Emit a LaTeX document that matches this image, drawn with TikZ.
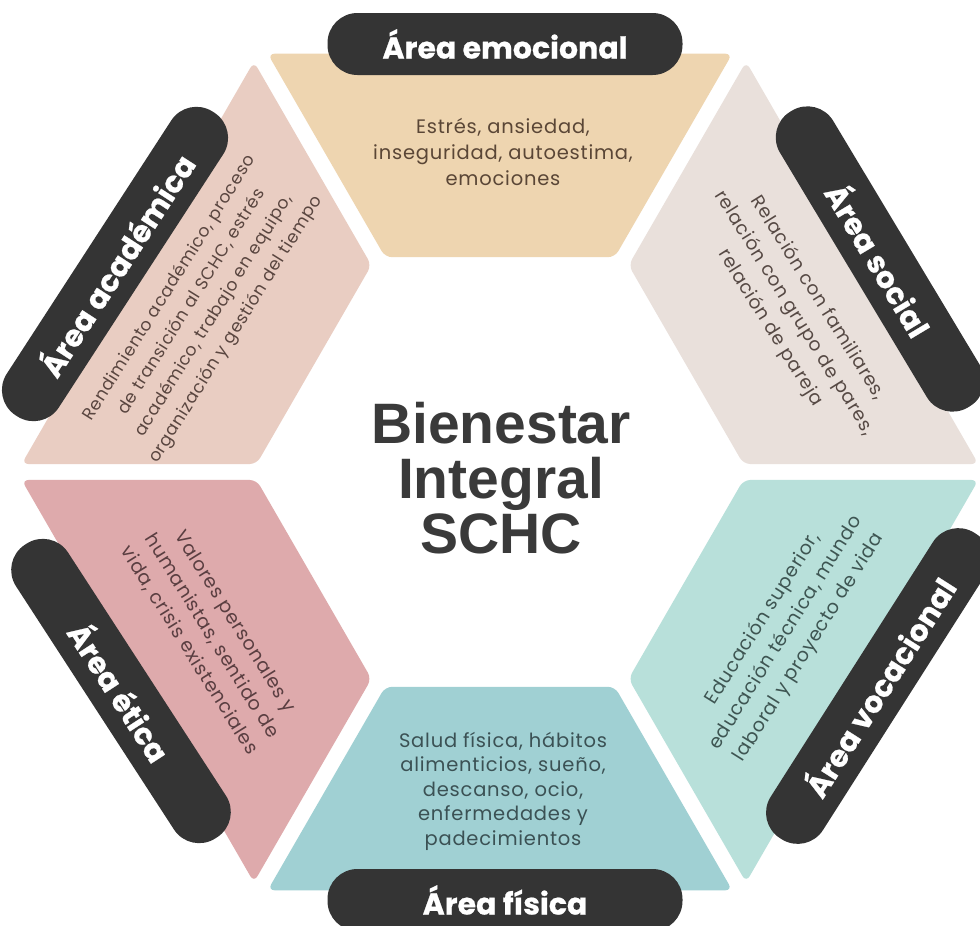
\documentclass[tikz,border=0pt]{standalone}
\usepackage{fontspec}
\setmainfont{Poppins}[LetterSpace=4]
\newfontfamily\titlefont{Liberation Sans}
\newfontfamily\pillfont{Poppins}[BoldFeatures={FakeBold=0.7}]
\usetikzlibrary{calc}
\definecolor{cEmo}{HTML}{EED5B0}
\definecolor{cAca}{HTML}{E9CDC2}
\definecolor{cSoc}{HTML}{E9E0DB}
\definecolor{cEti}{HTML}{DEAAAC}
\definecolor{cVoc}{HTML}{B8E0DA}
\definecolor{cFis}{HTML}{A0D0D3}
\definecolor{tEmo}{HTML}{5A4636}
\definecolor{tAca}{HTML}{5A4640}
\definecolor{tSoc}{HTML}{564944}
\definecolor{tEti}{HTML}{5A3E41}
\definecolor{tVoc}{HTML}{3E5552}
\definecolor{tFis}{HTML}{3B5154}
\definecolor{pilldark}{HTML}{343434}
\definecolor{titlegray}{HTML}{3A3A3A}
\tikzset{
  pill/.style={fill=pilldark, rounded corners=30pt, minimum width=355pt, minimum height=62pt,
    inner sep=0pt, text=white, font=\pillfont\bfseries\fontsize{30}{32}\selectfont},
  body/.style={align=center, inner sep=0pt, font=\fontsize{19.5}{26}\selectfont},
  titletext/.style={text=titlegray, align=center, inner sep=0pt, font=\titlefont\bfseries\fontsize{57}{55}\selectfont},
  segment/.style={rounded corners=7pt}
}
\newcommand\hexseg[3]{\fill[#3, segment] ($(O#1)!9.2pt!(O#2)$) -- ($(O#2)!9.2pt!(O#1)$) -- ($(I#2)!9.2pt!(I#1)$) -- ($(I#1)!9.2pt!(I#2)$) -- cycle;}
\begin{document}
\begin{tikzpicture}[x=1pt,y=-1pt]
\fill[white] (0,0) rectangle (980,926);
\useasboundingbox (0,0) rectangle (980,926);
\foreach \k in {0,...,5}{
  \coordinate (O\k) at ({500+483*cos(60*\k)},{472-483*sin(60*\k)});
  \coordinate (I\k) at ({500+248*cos(60*\k)},{472-248*sin(60*\k)});
}
% segments
\hexseg{1}{2}{cEmo}
\hexseg{2}{3}{cAca}
\hexseg{3}{4}{cEti}
\hexseg{4}{5}{cFis}
\hexseg{5}{0}{cVoc}
\hexseg{0}{1}{cSoc}
% centre
\node[titletext] (title) at (501,478) {Bienestar\\Integral\\SCHC};
% body texts
\node[body, text=tEmo] (temo) at (503,152) {Estrés, ansiedad,\\inseguridad, autoestima,\\emociones};
\node[body, text=tFis, font=\fontsize{19.5}{24.5}\selectfont] (tfis) at (503,791) {Salud física, hábitos\\alimenticios, sueño,\\descanso, ocio,\\enfermedades y\\padecimientos};
\node[body, text=tAca, font=\fontsize{17.2}{26}\selectfont, rotate=58] (taca) at (203,309) {Rendimiento académico, proceso\\de transición al SCHC, estrés\\académico, trabajo en equipo,\\organización y gestión del tiempo};
\node[body, text=tSoc, font=\fontsize{18.6}{28}\selectfont, rotate=-58] (tsoc) at (794,313) {Relación con familiares,\\relación con grupo de pares,\\relación de pareja};
\node[body, text=tEti, font=\fontsize{19}{27}\selectfont, rotate=-58] (teti) at (212,636) {Valores personales y\\humanistas, sentido de\\vida, crisis existenciales};
\node[body, text=tVoc, font=\fontsize{19}{27}\selectfont, rotate=58] (tvoc) at (786,633) {Educación superior,\\educación técnica, mundo\\laboral y proyecto de vida};
% pills
\node[pill] (pemo) at (505,44) {Área emocional};
\node[pill] (pfis) at (505,900) {Área física};
\node[pill, rotate=57, minimum width=362pt] (paca) at (115,264) {Área académica};
\node[pill, rotate=-59, minimum width=345pt] (psoc) at (880,259) {Área social};
\node[pill, rotate=57.5, minimum width=362pt] (pvoc) at (878,686) {Área vocacional};
\node[pill, rotate=-57, minimum width=350pt] (peti) at (121,691) {Área ética};
\end{tikzpicture}
\end{document}
